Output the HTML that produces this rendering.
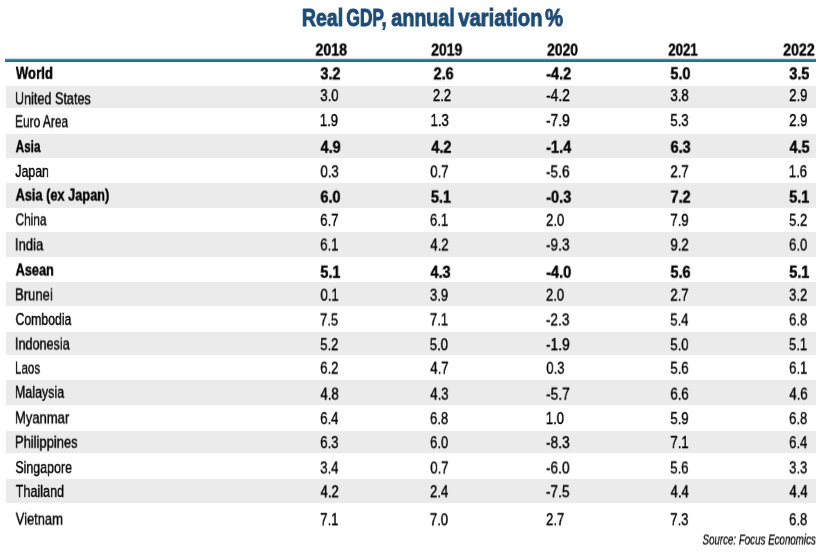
<!DOCTYPE html>
<html><head><meta charset="utf-8"><title>Real GDP, annual variation %</title><style>
html,body{margin:0;padding:0;}
body{width:824px;height:552px;position:relative;overflow:hidden;background:#fff;font-family:"Liberation Sans",sans-serif;}
.r{position:absolute;}
.t{position:absolute;white-space:nowrap;transform-origin:0 0;will-change:transform;}
</style></head><body>
<div class="r" style="left:4.5px;top:56.5px;width:811.10px;height:5.50px;background:linear-gradient(to bottom, rgba(255,255,255,0) 0%, #eefafc 18%, #b5dbe6 33%, #6ea9bd 45%, #2a7590 55%, #236f89 91%, rgba(35,111,137,0.4) 100%)"></div>
<div class="r" style="left:5.85px;top:85.5px;width:809.75px;height:22.90px;background:#ebebeb"></div>
<div class="r" style="left:5.85px;top:134.2px;width:809.75px;height:24.00px;background:#ebebeb"></div>
<div class="r" style="left:5.85px;top:182.9px;width:809.75px;height:24.70px;background:#ebebeb"></div>
<div class="r" style="left:5.85px;top:232.2px;width:809.75px;height:25.30px;background:#ebebeb"></div>
<div class="r" style="left:5.85px;top:281.5px;width:809.75px;height:24.70px;background:#ebebeb"></div>
<div class="r" style="left:5.85px;top:331.5px;width:809.75px;height:23.40px;background:#ebebeb"></div>
<div class="r" style="left:5.85px;top:380.2px;width:809.75px;height:24.40px;background:#ebebeb"></div>
<div class="r" style="left:5.85px;top:430.5px;width:809.75px;height:22.90px;background:#ebebeb"></div>
<div class="r" style="left:5.85px;top:479.2px;width:809.75px;height:24.00px;background:#ebebeb"></div>
<div class="t" style="left:301px;top:4px;font-size:23.692px;line-height:26.469px;font-weight:bold;-webkit-text-stroke:0.9px #1d4b74;color:#1d4b74;transform:translate(0.86px,0.95px) scaleX(0.8244)">Real</div>
<div class="t" style="left:346px;top:4px;font-size:23.692px;line-height:26.469px;font-weight:bold;-webkit-text-stroke:0.9px #1d4b74;color:#1d4b74;transform:translate(0.40px,0.95px) scaleX(0.7294)">GDP,</div>
<div class="t" style="left:391px;top:4px;font-size:23.692px;line-height:26.469px;font-weight:bold;-webkit-text-stroke:0.9px #1d4b74;color:#1d4b74;transform:translate(0.30px,0.95px) scaleX(0.8317)">annual</div>
<div class="t" style="left:458px;top:4px;font-size:23.692px;line-height:26.469px;font-weight:bold;-webkit-text-stroke:0.9px #1d4b74;color:#1d4b74;transform:translate(0.31px,0.95px) scaleX(0.8523)">variation</div>
<div class="t" style="left:545px;top:4px;font-size:23.692px;line-height:26.469px;font-weight:bold;-webkit-text-stroke:0.9px #1d4b74;color:#1d4b74;transform:translate(0.12px,0.95px) scaleX(0.8459)">%</div>
<div class="t" style="left:315px;top:41px;font-size:16.570px;line-height:18.512px;font-weight:bold;-webkit-text-stroke:0.4px #000;color:#000;transform:translate(0.46px,0.51px) scaleX(0.8547)">2018</div>
<div class="t" style="left:431px;top:41px;font-size:16.570px;line-height:18.512px;font-weight:bold;-webkit-text-stroke:0.4px #000;color:#000;transform:translate(0.19px,0.51px) scaleX(0.8399)">2019</div>
<div class="t" style="left:547px;top:41px;font-size:16.570px;line-height:18.512px;font-weight:bold;-webkit-text-stroke:0.4px #000;color:#000;transform:translate(0.07px,0.51px) scaleX(0.8364)">2020</div>
<div class="t" style="left:668px;top:41px;font-size:16.570px;line-height:18.512px;font-weight:bold;-webkit-text-stroke:0.4px #000;color:#000;transform:translate(0.31px,0.51px) scaleX(0.7940)">2021</div>
<div class="t" style="left:783px;top:41px;font-size:16.570px;line-height:18.512px;font-weight:bold;-webkit-text-stroke:0.4px #000;color:#000;transform:translate(0.19px,0.51px) scaleX(0.8509)">2022</div>
<div class="t" style="left:15px;top:64px;font-size:16.861px;line-height:18.837px;font-weight:bold;-webkit-text-stroke:0.45px #000;color:#000;transform:translate(0.86px,0.76px) scaleX(0.7791)">World</div>
<div class="t" style="left:320px;top:65px;font-size:16.861px;line-height:18.837px;font-weight:bold;-webkit-text-stroke:0.45px #000;color:#000;transform:translate(0.40px,0.33px) scaleX(0.8579)">3.2</div>
<div class="t" style="left:433px;top:65px;font-size:16.861px;line-height:18.837px;font-weight:bold;-webkit-text-stroke:0.45px #000;color:#000;transform:translate(0.57px,0.33px) scaleX(0.8579)">2.6</div>
<div class="t" style="left:546px;top:65px;font-size:16.861px;line-height:18.837px;font-weight:bold;-webkit-text-stroke:0.45px #000;color:#000;transform:translate(0.26px,0.33px) scaleX(0.8575)">-4.2</div>
<div class="t" style="left:670px;top:65px;font-size:16.861px;line-height:18.837px;font-weight:bold;-webkit-text-stroke:0.45px #000;color:#000;transform:translate(0.40px,0.29px) scaleX(0.8579)">5.0</div>
<div class="t" style="left:789px;top:65px;font-size:16.861px;line-height:18.837px;font-weight:bold;-webkit-text-stroke:0.45px #000;color:#000;transform:translate(0.30px,0.33px) scaleX(0.8579)">3.5</div>
<div class="t" style="left:14px;top:90px;font-size:16.861px;line-height:18.837px;-webkit-text-stroke:0.4px #000;color:#000;transform:translate(0.99px,0.28px) scaleX(0.7480)">United States</div>
<div class="t" style="left:320px;top:87px;font-size:16.861px;line-height:18.837px;-webkit-text-stroke:0.4px #000;color:#000;transform:translate(0.28px,0.10px) scaleX(0.7789)">3.0</div>
<div class="t" style="left:432px;top:87px;font-size:16.861px;line-height:18.837px;-webkit-text-stroke:0.4px #000;color:#000;transform:translate(0.84px,0.04px) scaleX(0.7789)">2.2</div>
<div class="t" style="left:546px;top:87px;font-size:16.861px;line-height:18.837px;-webkit-text-stroke:0.4px #000;color:#000;transform:translate(0.21px,0.02px) scaleX(0.8098)">-4.2</div>
<div class="t" style="left:670px;top:87px;font-size:16.861px;line-height:18.837px;-webkit-text-stroke:0.4px #000;color:#000;transform:translate(0.44px,0.09px) scaleX(0.7789)">3.8</div>
<div class="t" style="left:789px;top:87px;font-size:16.861px;line-height:18.837px;-webkit-text-stroke:0.4px #000;color:#000;transform:translate(0.18px,0.04px) scaleX(0.7789)">2.9</div>
<div class="t" style="left:15px;top:113px;font-size:16.861px;line-height:18.837px;-webkit-text-stroke:0.4px #000;color:#000;transform:translate(0.01px,0.26px) scaleX(0.7089)">Euro Area</div>
<div class="t" style="left:319px;top:112px;font-size:16.861px;line-height:18.837px;-webkit-text-stroke:0.4px #000;color:#000;transform:translate(0.81px,0.03px) scaleX(0.7789)">1.9</div>
<div class="t" style="left:430px;top:112px;font-size:16.861px;line-height:18.837px;-webkit-text-stroke:0.4px #000;color:#000;transform:translate(0.57px,0.03px) scaleX(0.7789)">1.3</div>
<div class="t" style="left:546px;top:112px;font-size:16.861px;line-height:18.837px;-webkit-text-stroke:0.4px #000;color:#000;transform:translate(0.13px,0.10px) scaleX(0.8098)">-7.9</div>
<div class="t" style="left:670px;top:112px;font-size:16.861px;line-height:18.837px;-webkit-text-stroke:0.4px #000;color:#000;transform:translate(0.34px,0.12px) scaleX(0.7789)">5.3</div>
<div class="t" style="left:789px;top:112px;font-size:16.861px;line-height:18.837px;-webkit-text-stroke:0.4px #000;color:#000;transform:translate(0.18px,0.03px) scaleX(0.7789)">2.9</div>
<div class="t" style="left:15px;top:138px;font-size:16.861px;line-height:18.837px;font-weight:bold;-webkit-text-stroke:0.45px #000;color:#000;transform:translate(0.65px,0.21px) scaleX(0.6968)">Asia</div>
<div class="t" style="left:320px;top:138px;font-size:16.861px;line-height:18.837px;font-weight:bold;-webkit-text-stroke:0.45px #000;color:#000;transform:translate(0.56px,0.70px) scaleX(0.8579)">4.9</div>
<div class="t" style="left:431px;top:138px;font-size:16.861px;line-height:18.837px;font-weight:bold;-webkit-text-stroke:0.45px #000;color:#000;transform:translate(0.36px,0.70px) scaleX(0.8579)">4.2</div>
<div class="t" style="left:546px;top:138px;font-size:16.861px;line-height:18.837px;font-weight:bold;-webkit-text-stroke:0.45px #000;color:#000;transform:translate(0.25px,0.70px) scaleX(0.8575)">-1.4</div>
<div class="t" style="left:670px;top:138px;font-size:16.861px;line-height:18.837px;font-weight:bold;-webkit-text-stroke:0.45px #000;color:#000;transform:translate(0.56px,0.71px) scaleX(0.8579)">6.3</div>
<div class="t" style="left:789px;top:138px;font-size:16.861px;line-height:18.837px;font-weight:bold;-webkit-text-stroke:0.45px #000;color:#000;transform:translate(0.54px,0.70px) scaleX(0.8579)">4.5</div>
<div class="t" style="left:15px;top:162px;font-size:16.861px;line-height:18.837px;-webkit-text-stroke:0.4px #000;color:#000;transform:translate(0.36px,0.98px) scaleX(0.7301)">Japan</div>
<div class="t" style="left:320px;top:163px;font-size:16.861px;line-height:18.837px;-webkit-text-stroke:0.4px #000;color:#000;transform:translate(0.44px,0.30px) scaleX(0.7789)">0.3</div>
<div class="t" style="left:430px;top:163px;font-size:16.861px;line-height:18.837px;-webkit-text-stroke:0.4px #000;color:#000;transform:translate(0.27px,0.33px) scaleX(0.7789)">0.7</div>
<div class="t" style="left:545px;top:163px;font-size:16.861px;line-height:18.837px;-webkit-text-stroke:0.4px #000;color:#000;transform:translate(0.98px,0.38px) scaleX(0.8098)">-5.6</div>
<div class="t" style="left:670px;top:163px;font-size:16.861px;line-height:18.837px;-webkit-text-stroke:0.4px #000;color:#000;transform:translate(0.40px,0.26px) scaleX(0.7789)">2.7</div>
<div class="t" style="left:788px;top:163px;font-size:16.861px;line-height:18.837px;-webkit-text-stroke:0.4px #000;color:#000;transform:translate(0.76px,0.21px) scaleX(0.7789)">1.6</div>
<div class="t" style="left:15px;top:186px;font-size:16.861px;line-height:18.837px;font-weight:bold;-webkit-text-stroke:0.45px #000;color:#000;transform:translate(0.58px,0.61px) scaleX(0.7575)">Asia (ex Japan)</div>
<div class="t" style="left:320px;top:188px;font-size:16.861px;line-height:18.837px;font-weight:bold;-webkit-text-stroke:0.45px #000;color:#000;transform:translate(0.43px,0.60px) scaleX(0.8579)">6.0</div>
<div class="t" style="left:430px;top:188px;font-size:16.861px;line-height:18.837px;font-weight:bold;-webkit-text-stroke:0.45px #000;color:#000;transform:translate(0.89px,0.60px) scaleX(0.8579)">5.1</div>
<div class="t" style="left:546px;top:188px;font-size:16.861px;line-height:18.837px;font-weight:bold;-webkit-text-stroke:0.45px #000;color:#000;transform:translate(0.30px,0.65px) scaleX(0.8575)">-0.3</div>
<div class="t" style="left:670px;top:188px;font-size:16.861px;line-height:18.837px;font-weight:bold;-webkit-text-stroke:0.45px #000;color:#000;transform:translate(0.54px,0.60px) scaleX(0.8579)">7.2</div>
<div class="t" style="left:789px;top:188px;font-size:16.861px;line-height:18.837px;font-weight:bold;-webkit-text-stroke:0.45px #000;color:#000;transform:translate(0.22px,0.60px) scaleX(0.8579)">5.1</div>
<div class="t" style="left:15px;top:211px;font-size:16.861px;line-height:18.837px;-webkit-text-stroke:0.4px #000;color:#000;transform:translate(0.56px,0.32px) scaleX(0.7006)">China</div>
<div class="t" style="left:320px;top:211px;font-size:16.861px;line-height:18.837px;-webkit-text-stroke:0.4px #000;color:#000;transform:translate(0.22px,0.86px) scaleX(0.7789)">6.7</div>
<div class="t" style="left:429px;top:211px;font-size:16.861px;line-height:18.837px;-webkit-text-stroke:0.4px #000;color:#000;transform:translate(0.95px,0.76px) scaleX(0.7789)">6.1</div>
<div class="t" style="left:546px;top:211px;font-size:16.861px;line-height:18.837px;-webkit-text-stroke:0.4px #000;color:#000;transform:translate(0.01px,0.76px) scaleX(0.7789)">2.0</div>
<div class="t" style="left:670px;top:211px;font-size:16.861px;line-height:18.837px;-webkit-text-stroke:0.4px #000;color:#000;transform:translate(0.37px,0.81px) scaleX(0.7789)">7.9</div>
<div class="t" style="left:789px;top:211px;font-size:16.861px;line-height:18.837px;-webkit-text-stroke:0.4px #000;color:#000;transform:translate(0.03px,0.76px) scaleX(0.7789)">5.2</div>
<div class="t" style="left:14px;top:236px;font-size:16.861px;line-height:18.837px;-webkit-text-stroke:0.4px #000;color:#000;transform:translate(0.91px,0.37px) scaleX(0.7751)">India</div>
<div class="t" style="left:320px;top:236px;font-size:16.861px;line-height:18.837px;-webkit-text-stroke:0.4px #000;color:#000;transform:translate(0.20px,0.49px) scaleX(0.7789)">6.1</div>
<div class="t" style="left:430px;top:236px;font-size:16.861px;line-height:18.837px;-webkit-text-stroke:0.4px #000;color:#000;transform:translate(0.33px,0.48px) scaleX(0.7789)">4.2</div>
<div class="t" style="left:546px;top:236px;font-size:16.861px;line-height:18.837px;-webkit-text-stroke:0.4px #000;color:#000;transform:translate(0.01px,0.49px) scaleX(0.8098)">-9.3</div>
<div class="t" style="left:670px;top:236px;font-size:16.861px;line-height:18.837px;-webkit-text-stroke:0.4px #000;color:#000;transform:translate(0.44px,0.48px) scaleX(0.7789)">9.2</div>
<div class="t" style="left:789px;top:236px;font-size:16.861px;line-height:18.837px;-webkit-text-stroke:0.4px #000;color:#000;transform:translate(0.06px,0.54px) scaleX(0.7789)">6.0</div>
<div class="t" style="left:15px;top:261px;font-size:16.861px;line-height:18.837px;font-weight:bold;-webkit-text-stroke:0.45px #000;color:#000;transform:translate(0.60px,0.50px) scaleX(0.7550)">Asean</div>
<div class="t" style="left:320px;top:263px;font-size:16.861px;line-height:18.837px;font-weight:bold;-webkit-text-stroke:0.45px #000;color:#000;transform:translate(0.37px,0.74px) scaleX(0.8579)">5.1</div>
<div class="t" style="left:430px;top:263px;font-size:16.861px;line-height:18.837px;font-weight:bold;-webkit-text-stroke:0.45px #000;color:#000;transform:translate(0.47px,0.75px) scaleX(0.8579)">4.3</div>
<div class="t" style="left:546px;top:263px;font-size:16.861px;line-height:18.837px;font-weight:bold;-webkit-text-stroke:0.45px #000;color:#000;transform:translate(0.26px,0.73px) scaleX(0.8575)">-4.0</div>
<div class="t" style="left:670px;top:263px;font-size:16.861px;line-height:18.837px;font-weight:bold;-webkit-text-stroke:0.45px #000;color:#000;transform:translate(0.46px,0.74px) scaleX(0.8579)">5.6</div>
<div class="t" style="left:789px;top:263px;font-size:16.861px;line-height:18.837px;font-weight:bold;-webkit-text-stroke:0.45px #000;color:#000;transform:translate(0.27px,0.74px) scaleX(0.8579)">5.1</div>
<div class="t" style="left:14px;top:286px;font-size:16.861px;line-height:18.837px;-webkit-text-stroke:0.4px #000;color:#000;transform:translate(0.97px,0.37px) scaleX(0.7769)">Brunei</div>
<div class="t" style="left:320px;top:286px;font-size:16.861px;line-height:18.837px;-webkit-text-stroke:0.4px #000;color:#000;transform:translate(0.44px,0.67px) scaleX(0.7789)">0.1</div>
<div class="t" style="left:429px;top:286px;font-size:16.861px;line-height:18.837px;-webkit-text-stroke:0.4px #000;color:#000;transform:translate(0.96px,0.71px) scaleX(0.7789)">3.9</div>
<div class="t" style="left:545px;top:286px;font-size:16.861px;line-height:18.837px;-webkit-text-stroke:0.4px #000;color:#000;transform:translate(0.91px,0.67px) scaleX(0.7789)">2.0</div>
<div class="t" style="left:670px;top:286px;font-size:16.861px;line-height:18.837px;-webkit-text-stroke:0.4px #000;color:#000;transform:translate(0.35px,0.67px) scaleX(0.7789)">2.7</div>
<div class="t" style="left:789px;top:286px;font-size:16.861px;line-height:18.837px;-webkit-text-stroke:0.4px #000;color:#000;transform:translate(0.06px,0.67px) scaleX(0.7789)">3.2</div>
<div class="t" style="left:15px;top:310px;font-size:16.861px;line-height:18.837px;-webkit-text-stroke:0.4px #000;color:#000;transform:translate(0.52px,0.92px) scaleX(0.7263)">Combodia</div>
<div class="t" style="left:319px;top:311px;font-size:16.861px;line-height:18.837px;-webkit-text-stroke:0.4px #000;color:#000;transform:translate(0.94px,0.45px) scaleX(0.7789)">7.5</div>
<div class="t" style="left:429px;top:311px;font-size:16.861px;line-height:18.837px;-webkit-text-stroke:0.4px #000;color:#000;transform:translate(0.86px,0.35px) scaleX(0.7789)">7.1</div>
<div class="t" style="left:545px;top:311px;font-size:16.861px;line-height:18.837px;-webkit-text-stroke:0.4px #000;color:#000;transform:translate(0.88px,0.41px) scaleX(0.8098)">-2.3</div>
<div class="t" style="left:670px;top:311px;font-size:16.861px;line-height:18.837px;-webkit-text-stroke:0.4px #000;color:#000;transform:translate(0.23px,0.44px) scaleX(0.7789)">5.4</div>
<div class="t" style="left:789px;top:311px;font-size:16.861px;line-height:18.837px;-webkit-text-stroke:0.4px #000;color:#000;transform:translate(0.05px,0.42px) scaleX(0.7789)">6.8</div>
<div class="t" style="left:14px;top:335px;font-size:16.861px;line-height:18.837px;-webkit-text-stroke:0.4px #000;color:#000;transform:translate(0.95px,0.54px) scaleX(0.7484)">Indonesia</div>
<div class="t" style="left:320px;top:336px;font-size:16.861px;line-height:18.837px;-webkit-text-stroke:0.4px #000;color:#000;transform:translate(0.15px,0.16px) scaleX(0.7789)">5.2</div>
<div class="t" style="left:429px;top:336px;font-size:16.861px;line-height:18.837px;-webkit-text-stroke:0.4px #000;color:#000;transform:translate(0.76px,0.25px) scaleX(0.7789)">5.0</div>
<div class="t" style="left:546px;top:336px;font-size:16.861px;line-height:18.837px;-webkit-text-stroke:0.4px #000;color:#000;transform:translate(0.10px,0.13px) scaleX(0.8098)">-1.9</div>
<div class="t" style="left:670px;top:336px;font-size:16.861px;line-height:18.837px;-webkit-text-stroke:0.4px #000;color:#000;transform:translate(0.29px,0.26px) scaleX(0.7789)">5.0</div>
<div class="t" style="left:788px;top:336px;font-size:16.861px;line-height:18.837px;-webkit-text-stroke:0.4px #000;color:#000;transform:translate(0.94px,0.15px) scaleX(0.7789)">5.1</div>
<div class="t" style="left:15px;top:359px;font-size:16.861px;line-height:18.837px;-webkit-text-stroke:0.4px #000;color:#000;transform:translate(0.03px,0.63px) scaleX(0.6843)">Laos</div>
<div class="t" style="left:320px;top:359px;font-size:16.861px;line-height:18.837px;-webkit-text-stroke:0.4px #000;color:#000;transform:translate(0.19px,0.68px) scaleX(0.7789)">6.2</div>
<div class="t" style="left:430px;top:359px;font-size:16.861px;line-height:18.837px;-webkit-text-stroke:0.4px #000;color:#000;transform:translate(0.30px,0.72px) scaleX(0.7789)">4.7</div>
<div class="t" style="left:546px;top:359px;font-size:16.861px;line-height:18.837px;-webkit-text-stroke:0.4px #000;color:#000;transform:translate(0.26px,0.75px) scaleX(0.7789)">0.3</div>
<div class="t" style="left:670px;top:359px;font-size:16.861px;line-height:18.837px;-webkit-text-stroke:0.4px #000;color:#000;transform:translate(0.35px,0.75px) scaleX(0.7789)">5.6</div>
<div class="t" style="left:789px;top:359px;font-size:16.861px;line-height:18.837px;-webkit-text-stroke:0.4px #000;color:#000;transform:translate(0.08px,0.68px) scaleX(0.7789)">6.1</div>
<div class="t" style="left:15px;top:383px;font-size:16.861px;line-height:18.837px;-webkit-text-stroke:0.4px #000;color:#000;transform:translate(0.01px,0.78px) scaleX(0.7375)">Malaysia</div>
<div class="t" style="left:320px;top:385px;font-size:16.861px;line-height:18.837px;-webkit-text-stroke:0.4px #000;color:#000;transform:translate(0.47px,0.64px) scaleX(0.7789)">4.8</div>
<div class="t" style="left:430px;top:385px;font-size:16.861px;line-height:18.837px;-webkit-text-stroke:0.4px #000;color:#000;transform:translate(0.28px,0.63px) scaleX(0.7789)">4.3</div>
<div class="t" style="left:546px;top:385px;font-size:16.861px;line-height:18.837px;-webkit-text-stroke:0.4px #000;color:#000;transform:translate(0.14px,0.66px) scaleX(0.8098)">-5.7</div>
<div class="t" style="left:670px;top:385px;font-size:16.861px;line-height:18.837px;-webkit-text-stroke:0.4px #000;color:#000;transform:translate(0.39px,0.67px) scaleX(0.7789)">6.6</div>
<div class="t" style="left:789px;top:385px;font-size:16.861px;line-height:18.837px;-webkit-text-stroke:0.4px #000;color:#000;transform:translate(0.37px,0.62px) scaleX(0.7789)">4.6</div>
<div class="t" style="left:14px;top:409px;font-size:16.861px;line-height:18.837px;-webkit-text-stroke:0.4px #000;color:#000;transform:translate(0.97px,0.38px) scaleX(0.7715)">Myanmar</div>
<div class="t" style="left:320px;top:410px;font-size:16.861px;line-height:18.837px;-webkit-text-stroke:0.4px #000;color:#000;transform:translate(0.21px,0.12px) scaleX(0.7789)">6.4</div>
<div class="t" style="left:429px;top:410px;font-size:16.861px;line-height:18.837px;-webkit-text-stroke:0.4px #000;color:#000;transform:translate(0.98px,0.15px) scaleX(0.7789)">6.8</div>
<div class="t" style="left:545px;top:410px;font-size:16.861px;line-height:18.837px;-webkit-text-stroke:0.4px #000;color:#000;transform:translate(0.76px,0.04px) scaleX(0.7789)">1.0</div>
<div class="t" style="left:670px;top:410px;font-size:16.861px;line-height:18.837px;-webkit-text-stroke:0.4px #000;color:#000;transform:translate(0.34px,0.10px) scaleX(0.7789)">5.9</div>
<div class="t" style="left:789px;top:410px;font-size:16.861px;line-height:18.837px;-webkit-text-stroke:0.4px #000;color:#000;transform:translate(0.06px,0.13px) scaleX(0.7789)">6.8</div>
<div class="t" style="left:14px;top:433px;font-size:16.861px;line-height:18.837px;-webkit-text-stroke:0.4px #000;color:#000;transform:translate(0.95px,0.73px) scaleX(0.7688)">Philippines</div>
<div class="t" style="left:320px;top:434px;font-size:16.861px;line-height:18.837px;-webkit-text-stroke:0.4px #000;color:#000;transform:translate(0.22px,0.10px) scaleX(0.7789)">6.3</div>
<div class="t" style="left:430px;top:434px;font-size:16.861px;line-height:18.837px;-webkit-text-stroke:0.4px #000;color:#000;transform:translate(0.02px,0.13px) scaleX(0.7789)">6.0</div>
<div class="t" style="left:546px;top:434px;font-size:16.861px;line-height:18.837px;-webkit-text-stroke:0.4px #000;color:#000;transform:translate(0.08px,0.13px) scaleX(0.8098)">-8.3</div>
<div class="t" style="left:670px;top:434px;font-size:16.861px;line-height:18.837px;-webkit-text-stroke:0.4px #000;color:#000;transform:translate(0.38px,0.05px) scaleX(0.7789)">7.1</div>
<div class="t" style="left:789px;top:434px;font-size:16.861px;line-height:18.837px;-webkit-text-stroke:0.4px #000;color:#000;transform:translate(0.08px,0.17px) scaleX(0.7789)">6.4</div>
<div class="t" style="left:15px;top:459px;font-size:16.861px;line-height:18.837px;-webkit-text-stroke:0.4px #000;color:#000;transform:translate(0.31px,0.11px) scaleX(0.7376)">Singapore</div>
<div class="t" style="left:320px;top:459px;font-size:16.861px;line-height:18.837px;-webkit-text-stroke:0.4px #000;color:#000;transform:translate(0.22px,0.44px) scaleX(0.7789)">3.4</div>
<div class="t" style="left:430px;top:459px;font-size:16.861px;line-height:18.837px;-webkit-text-stroke:0.4px #000;color:#000;transform:translate(0.25px,0.47px) scaleX(0.7789)">0.7</div>
<div class="t" style="left:545px;top:459px;font-size:16.861px;line-height:18.837px;-webkit-text-stroke:0.4px #000;color:#000;transform:translate(0.97px,0.45px) scaleX(0.8098)">-6.0</div>
<div class="t" style="left:670px;top:459px;font-size:16.861px;line-height:18.837px;-webkit-text-stroke:0.4px #000;color:#000;transform:translate(0.23px,0.44px) scaleX(0.7789)">5.6</div>
<div class="t" style="left:789px;top:459px;font-size:16.861px;line-height:18.837px;-webkit-text-stroke:0.4px #000;color:#000;transform:translate(0.08px,0.40px) scaleX(0.7789)">3.3</div>
<div class="t" style="left:15px;top:482px;font-size:16.861px;line-height:18.837px;-webkit-text-stroke:0.4px #000;color:#000;transform:translate(0.72px,0.90px) scaleX(0.7480)">Thailand</div>
<div class="t" style="left:320px;top:483px;font-size:16.861px;line-height:18.837px;-webkit-text-stroke:0.4px #000;color:#000;transform:translate(0.53px,0.26px) scaleX(0.7789)">4.2</div>
<div class="t" style="left:430px;top:483px;font-size:16.861px;line-height:18.837px;-webkit-text-stroke:0.4px #000;color:#000;transform:translate(0.01px,0.23px) scaleX(0.7789)">2.4</div>
<div class="t" style="left:545px;top:483px;font-size:16.861px;line-height:18.837px;-webkit-text-stroke:0.4px #000;color:#000;transform:translate(0.93px,0.25px) scaleX(0.8098)">-7.5</div>
<div class="t" style="left:670px;top:483px;font-size:16.861px;line-height:18.837px;-webkit-text-stroke:0.4px #000;color:#000;transform:translate(0.58px,0.30px) scaleX(0.7789)">4.4</div>
<div class="t" style="left:789px;top:483px;font-size:16.861px;line-height:18.837px;-webkit-text-stroke:0.4px #000;color:#000;transform:translate(0.42px,0.23px) scaleX(0.7789)">4.4</div>
<div class="t" style="left:15px;top:510px;font-size:16.861px;line-height:18.837px;-webkit-text-stroke:0.4px #000;color:#000;transform:translate(0.73px,0.65px) scaleX(0.7665)">Vietnam</div>
<div class="t" style="left:320px;top:511px;font-size:16.861px;line-height:18.837px;-webkit-text-stroke:0.4px #000;color:#000;transform:translate(0.19px,0.16px) scaleX(0.7789)">7.1</div>
<div class="t" style="left:429px;top:511px;font-size:16.861px;line-height:18.837px;-webkit-text-stroke:0.4px #000;color:#000;transform:translate(0.85px,0.29px) scaleX(0.7789)">7.0</div>
<div class="t" style="left:545px;top:511px;font-size:16.861px;line-height:18.837px;-webkit-text-stroke:0.4px #000;color:#000;transform:translate(1.00px,0.14px) scaleX(0.7789)">2.7</div>
<div class="t" style="left:670px;top:511px;font-size:16.861px;line-height:18.837px;-webkit-text-stroke:0.4px #000;color:#000;transform:translate(0.22px,0.23px) scaleX(0.7789)">7.3</div>
<div class="t" style="left:789px;top:511px;font-size:16.861px;line-height:18.837px;-webkit-text-stroke:0.4px #000;color:#000;transform:translate(0.05px,0.21px) scaleX(0.7789)">6.8</div>
<div class="t" style="left:702px;top:532px;font-size:14.099px;line-height:15.751px;font-style:italic;-webkit-text-stroke:0.25px #000;color:#000;transform:translate(0.48px,0.50px) scaleX(0.6930)">Source: Focus Economics</div>
</body></html>
